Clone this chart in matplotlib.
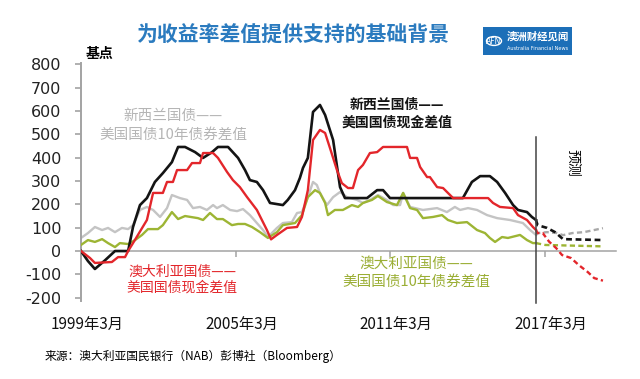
import numpy as np
import matplotlib

matplotlib.use("Agg")
import matplotlib.pyplot as plt
from matplotlib.patches import FancyBboxPatch, Circle
from matplotlib.transforms import ScaledTranslation

plt.rcParams["font.family"] = ["Noto Sans CJK SC", "DejaVu Sans"]

# ---- data (basis points) ----
nz_cash_x = [1999.17, 1999.44, 1999.71, 2000.1, 2000.49, 2001.0, 2001.19, 2001.46, 2001.73,
             2002.04, 2002.35, 2002.7, 2002.94, 2003.21, 2003.6, 2003.91, 2004.26, 2004.49,
             2004.88, 2005.27, 2005.54, 2005.73, 2006.0, 2006.24, 2006.51, 2007.01, 2007.2,
             2007.48, 2007.67, 2007.79, 2007.98, 2008.18, 2008.45, 2008.65, 2008.96, 2009.23,
             2009.42, 2010.28, 2010.67, 2010.9, 2011.17, 2014.0, 2014.35, 2014.67, 2015.05,
             2015.33, 2015.64, 2015.95, 2016.14, 2016.49, 2016.68, 2016.84]
nz_cash_y = [0, -43, -77, -40, 0, 0, 103, 197, 227,
             296, 334, 381, 446, 446, 424, 399, 424, 446,
             446, 399, 347, 304, 296, 261, 206, 197, 219,
             261, 313, 356, 399, 596, 626, 583, 476, 274,
             227, 227, 261, 261, 227, 227, 296, 321, 321,
             296, 249, 197, 176, 167, 146, 133]
nz_cash_fc_x = [2016.84, 2016.9, 2017.27, 2017.58, 2017.89, 2019.44]
nz_cash_fc_y = [133, 111, 99, 81, 51, 47]

au_cash_x = [1999.17, 1999.52, 1999.71, 2000.37, 2000.61, 2000.88, 2001.0, 2001.19, 2001.73,
             2001.97, 2002.35, 2002.51, 2002.74, 2002.9, 2003.29, 2003.48, 2003.79, 2003.91,
             2004.3, 2004.49, 2004.84, 2005.07, 2005.34, 2005.62, 2006.0, 2006.39, 2006.55,
             2006.78, 2007.17, 2007.56, 2007.75, 2007.98, 2008.18, 2008.45, 2008.65, 2008.84,
             2009.11, 2009.3, 2009.54, 2009.73, 2009.93, 2010.12, 2010.39, 2010.67, 2010.9,
             2011.83, 2011.95, 2012.22, 2012.34, 2012.61, 2012.72, 2013.0, 2013.23, 2013.62,
             2014.98, 2015.17, 2015.44, 2015.95, 2016.14, 2016.49, 2016.72, 2016.84]
au_cash_y = [0, -30, -51, -47, -26, -26, 0, 34, 133,
             249, 249, 296, 296, 347, 347, 377, 377, 420,
             420, 399, 339, 304, 274, 231, 176, 90, 50,
             69, 99, 103, 146, 261, 476, 519, 506, 441,
             347, 291, 270, 270, 347, 369, 420, 424, 446,
             446, 399, 399, 360, 317, 317, 274, 270, 227,
             227, 206, 189, 184, 154, 133, 103, 90]
au_cash_fc_x = [2016.84, 2016.9, 2017.1, 2017.35, 2017.62, 2017.85, 2018.2, 2018.5, 2018.85,
                2019.1, 2019.44]
au_cash_fc_y = [90, 77, 77, 40, 13, -17, -30, -60, -90, -116, -127]

nz_10y_x = [1999.17, 1999.44, 1999.71, 1999.99, 2000.22, 2000.49, 2000.76, 2001.0, 2001.19,
            2001.46, 2001.73, 2001.97, 2002.24, 2002.51, 2002.7, 2003.01, 2003.29, 2003.52,
            2003.79, 2004.06, 2004.3, 2004.45, 2004.68, 2004.96, 2005.23, 2005.46, 2005.73,
            2006.0, 2006.24, 2006.43, 2006.78, 2007.01, 2007.36, 2007.56, 2007.75, 2007.98,
            2008.18, 2008.33, 2008.45, 2008.72, 2008.96, 2009.23, 2009.5, 2009.89, 2010.12,
            2010.39, 2010.7, 2011.05, 2011.29, 2011.56, 2011.68, 2011.95, 2012.45, 2013.0,
            2013.38, 2013.69, 2013.89, 2014.2, 2014.55, 2014.94, 2015.33, 2015.83, 2016.33,
            2016.61, 2016.84]
nz_10y_y = [56, 77, 103, 90, 99, 81, 99, 94, 111,
            176, 189, 176, 146, 184, 240, 227, 219, 184,
            189, 176, 197, 184, 197, 176, 171, 180, 154,
            120, 90, 60, 99, 120, 124, 163, 167, 231,
            296, 283, 249, 197, 231, 253, 231, 219, 206,
            219, 240, 219, 197, 197, 249, 189, 176, 184,
            167, 189, 176, 184, 176, 154, 141, 133, 120,
            90, 69]
nz_10y_fc_x = [2016.84, 2016.9, 2017.27, 2017.66, 2017.89, 2018.25, 2018.7, 2019.1, 2019.44]
nz_10y_fc_y = [69, 77, 81, 77, 68, 77, 81, 90, 98]

au_10y_x = [1999.17, 1999.44, 1999.71, 1999.99, 2000.22, 2000.49, 2000.68, 2001.0, 2001.27,
            2001.54, 2001.77, 2002.16, 2002.35, 2002.7, 2002.94, 2003.21, 2003.71, 2003.91,
            2004.18, 2004.45, 2004.68, 2005.03, 2005.27, 2005.54, 2005.81, 2006.12, 2006.43,
            2006.78, 2007.01, 2007.48, 2007.75, 2007.98, 2008.26, 2008.45, 2008.65, 2008.76,
            2009.03, 2009.34, 2009.69, 2009.93, 2010.12, 2010.47, 2010.7, 2011.05, 2011.44,
            2011.68, 2011.95, 2012.22, 2012.45, 2012.84, 2013.19, 2013.42, 2013.77, 2014.16,
            2014.55, 2014.86, 2015.05, 2015.25, 2015.52, 2015.75, 2016.22, 2016.49, 2016.72,
            2016.84]
au_10y_y = [26, 47, 39, 51, 34, 17, 34, 30, 47,
            69, 94, 94, 111, 167, 137, 150, 141, 133,
            163, 137, 137, 111, 116, 116, 103, 81, 56,
            81, 111, 120, 154, 231, 261, 249, 206, 154,
            176, 176, 197, 189, 206, 219, 236, 210, 197,
            249, 184, 176, 141, 146, 154, 133, 120, 124,
            90, 77, 56, 39, 60, 56, 69, 47, 34,
            34]
au_10y_fc_x = [2016.84, 2017.2, 2019.44]
au_10y_fc_y = [34, 26, 20]

forecast_start = 2016.84
tick_years = [1999.17, 2005.17, 2011.17, 2017.17]
tick_labels = ["1999年3月", "2005年3月", "2011年3月", "2017年3月"]
y_ticks = list(range(-200, 801, 100))

BLACK = "#141414"
RED = "#e3262b"
GREY = "#c4c4c4"
GREEN = "#9db534"
AXIS = "#a3a3a3"

W, H = 640, 379
fig = plt.figure(figsize=(W / 100, H / 100), dpi=100)

x0, x1 = 1999.17, 1999.17 + 535 / 25.75
ax = fig.add_axes([81 / W, 1 - 301.2 / H, 535 / W, 238 / H])
ax.set_xlim(x0, x1)
ax.set_ylim(-215, 805)

ax.plot(nz_10y_x, nz_10y_y, color=GREY, lw=1.7, zorder=2, solid_joinstyle="round")
ax.plot(au_10y_x, au_10y_y, color=GREEN, lw=1.7, zorder=3, solid_joinstyle="round")
ax.plot(nz_cash_x, nz_cash_y, color=BLACK, lw=1.9, zorder=4, solid_joinstyle="round")
ax.plot(au_cash_x, au_cash_y, color=RED, lw=1.7, zorder=5, solid_joinstyle="round")

dash = (2.2, 1.4)
ax.plot(nz_10y_fc_x, nz_10y_fc_y, color="#a8a8a8", lw=1.7, dashes=dash, zorder=2)
ax.plot(au_10y_fc_x, au_10y_fc_y, color=GREEN, lw=1.7, dashes=dash, zorder=3)
ax.plot(nz_cash_fc_x, nz_cash_fc_y, color=BLACK, lw=1.9, dashes=dash, zorder=4)
ax.plot(au_cash_fc_x, au_cash_fc_y, color=RED, lw=1.7, dashes=dash, zorder=5)

ax.plot([forecast_start, forecast_start], [490, -222], color="#444444", lw=1.1,
        zorder=6, clip_on=False)

# axes styling
for s in ("top", "right"):
    ax.spines[s].set_visible(False)
ax.spines["left"].set_color(AXIS)
ax.spines["left"].set_linewidth(1.4)
ax.spines["bottom"].set_position(("data", 0))
ax.spines["bottom"].set_color(AXIS)
ax.spines["bottom"].set_linewidth(1.1)

ax.set_yticks(y_ticks)
ax.set_yticklabels([str(v) for v in y_ticks], family="DejaVu Sans", fontsize=11.5,
                   color="#222222")
ax.tick_params(axis="y", length=4, width=1.2, color=AXIS, pad=10)

ax.set_xticks(tick_years)
ax.set_xticklabels(tick_labels, fontsize=11, color="#111111")
ax.tick_params(axis="x", length=4, width=1.1, color=AXIS, pad=43)
for lab in ax.get_xticklabels():
    lab.set_transform(lab.get_transform() + ScaledTranslation(0.06, 0, fig.dpi_scale_trans))


def ftext(px, py, s, **kw):
    fig.text(px / W, 1 - py / H, s, **kw)


# title, unit, logo
ftext(294, 35, "为收益率差值提供支持的基础背景", fontsize=15, fontweight="bold",
      color="#2b7bbf", ha="center", va="center")
ftext(100, 54, "基点", fontsize=10, fontweight="bold", ha="center", va="center")

logo = FancyBboxPatch((483 / W, 1 - 55 / H), 89 / W, 28 / H, boxstyle="square,pad=0",
                      transform=fig.transFigure, facecolor="#1c6fb8", edgecolor="none")
fig.patches.append(logo)
fig.patches.append(Circle((494 / W, 1 - 41 / H), 7.5 / W, transform=fig.transFigure,
                          facecolor="none", edgecolor="white", lw=1.0))
ftext(494, 41, "AFN", fontsize=5.5, color="white", ha="center", va="center",
      family="DejaVu Sans")
ftext(538, 37, "澳洲财经见闻", fontsize=7.5, color="white", ha="center", va="center",
      fontweight="bold")
ftext(538, 48, "Australia Financial News", fontsize=3.6, color="white", ha="center",
      va="center", family="DejaVu Sans")

# series annotations
ftext(173, 116, "新西兰国债——", fontsize=10.5, color="#b5b5b5", ha="center", va="center")
ftext(173, 135, "美国国债10年债券差值", fontsize=10.5, color="#b5b5b5", ha="center", va="center")
ftext(397, 105, "新西兰国债——", fontsize=10, fontweight="bold", color=BLACK,
      ha="center", va="center")
ftext(397, 123, "美国国债现金差值", fontsize=10, fontweight="bold", color=BLACK,
      ha="center", va="center")
ftext(182, 272, "澳大利亚国债——", fontsize=10, color=RED, ha="center", va="center")
ftext(182, 288, "美国国债现金差值", fontsize=10, color=RED, ha="center", va="center")
ftext(416, 264, "澳大利亚国债——", fontsize=10.5, color="#9aae34", ha="center", va="center")
ftext(416, 282, "美国国债10年债券差值", fontsize=10.5, color="#9aae34", ha="center",
      va="center")
ftext(572, 163, "预测", fontsize=10, rotation=-90, ha="center", va="center")

ftext(45, 356, "来源：澳大利亚国民银行（NAB）彭博社（Bloomberg）", fontsize=8.5,
      ha="left", va="center")

fig.savefig("out.png", dpi=100)
